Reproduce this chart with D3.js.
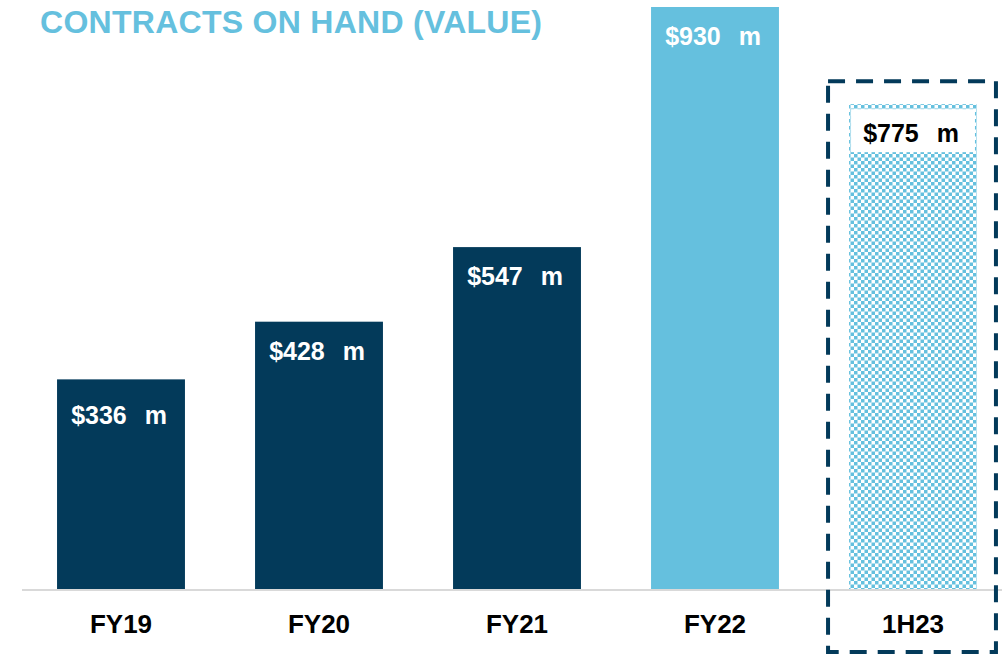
<!DOCTYPE html>
<html>
<head>
<meta charset="utf-8">
<script src="https://cdn.jsdelivr.net/npm/d3@7"></script>
<style>
  html, body { margin: 0; padding: 0; background: #fff; }
  text { font-family: "Liberation Sans", Arial, sans-serif; font-weight: bold; }
</style>
</head>
<body>
<div id="chart"></div>
<script>
const categories = ['FY19', 'FY20', 'FY21', 'FY22', '1H23']
const values = [336, 428, 547, 930, 775]
const valueLabels = ['$336  m', '$428  m', '$547  m', '$930  m', '$775  m']

const Width = 1005
const Height = 656
const navy = '#033a5a'
const light = '#65c0de'

const svg = d3.select('#chart')
    .append('svg')
    .attr('width', Width)
    .attr('height', Height)

// checker pattern for the half-year bar
const defs = svg.append('defs')
const pat = defs.append('pattern')
    .attr('id', 'checker')
    .attr('patternUnits', 'userSpaceOnUse')
    .attr('width', 7)
    .attr('height', 7)
pat.append('rect').attr('width', 7).attr('height', 7).attr('fill', '#fff')
pat.append('rect').attr('width', 3.5).attr('height', 3.5).attr('fill', light)
pat.append('rect').attr('x', 3.5).attr('y', 3.5).attr('width', 3.5).attr('height', 3.5).attr('fill', light)

const x = d3.scaleBand()
    .domain(categories)
    .range([22, 1012])
    .paddingInner(0.354)
    .paddingOuter(0.177)

const y = d3.scaleLinear()
    .domain([0, 930])
    .range([590, 7])

const data = categories.map((c, i) => ({ cat: c, value: values[i], label: valueLabels[i] }))

// title
svg.append('text')
    .attr('x', 40)
    .attr('y', 33)
    .attr('font-size', 32)
    .attr('textLength', 502)
    .attr('fill', light)
    .text('CONTRACTS ON HAND (VALUE)')

// baseline
svg.append('line')
    .attr('x1', 22).attr('x2', 1002)
    .attr('y1', 590).attr('y2', 590)
    .attr('stroke', '#d9d9d9')
    .attr('stroke-width', 2)

const fillOf = (d, i) => i < 3 ? navy : (i === 3 ? light : 'url(#checker)')

svg.selectAll('rect.bar')
    .data(data)
    .enter().append('rect')
    .attr('class', 'bar')
    .attr('x', d => x(d.cat))
    .attr('y', d => y(d.value))
    .attr('width', x.bandwidth())
    .attr('height', d => y(0) - y(d.value) - 1)
    .attr('fill', fillOf)

// white box behind the last label
const last = data[4]
svg.append('rect')
    .attr('x', x(last.cat) + 2)
    .attr('y', y(last.value) + 5)
    .attr('width', x.bandwidth() - 4)
    .attr('height', 43)
    .attr('fill', '#fff')

svg.selectAll('text.val')
    .data(data)
    .enter().append('text')
    .attr('class', 'val')
    .attr('x', d => x(d.cat) + x.bandwidth() / 2 - 2)
    .attr('y', (d, i) => y(d.value) + (i === 0 ? 45 : 38))
    .attr('text-anchor', 'middle')
    .attr('font-size', 25)
    .attr('word-spacing', 2)
    .style('white-space', 'pre')
    .attr('fill', (d, i) => i === 4 ? '#000' : '#fff')
    .text(d => d.label)

// category labels
svg.selectAll('text.cat')
    .data(data)
    .enter().append('text')
    .attr('class', 'cat')
    .attr('x', d => x(d.cat) + x.bandwidth() / 2)
    .attr('y', 633)
    .attr('text-anchor', 'middle')
    .attr('font-size', 26)
    .attr('fill', '#000')
    .text(d => d.cat)

// dashed highlight box around 1H23
svg.append('rect')
    .attr('x', x(last.cat) - 21)
    .attr('y', y(last.value) - 23)
    .attr('width', x.bandwidth() + 40)
    .attr('height', 652 - (y(last.value) - 23))
    .attr('fill', 'none')
    .attr('stroke', navy)
    .attr('stroke-width', 4)
    .attr('stroke-dasharray', '17,11')
</script>
</body>
</html>
